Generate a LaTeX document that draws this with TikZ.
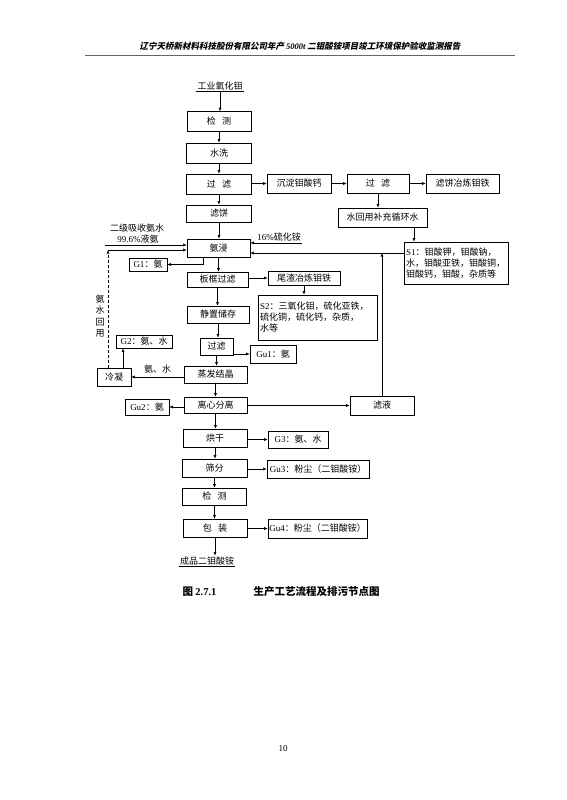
\documentclass[tikz,border=0pt]{standalone}
\usepackage{fontspec}
\setmainfont{Liberation Serif}
\newfontfamily\cjk{Noto Sans CJK SC}
\newfontfamily\hdrfont[FakeSlant=0.2]{Noto Sans CJK SC}
\usepackage{tikz}
\usetikzlibrary{arrows.meta}
\newcommand\lat[1]{{\rmfamily #1}}
\newcommand\gap{\hspace{0.7em}}

\begin{document}
\begin{tikzpicture}[x=1pt, y=-1pt,
  box/.style={draw, line width=0.6pt, inner sep=1pt, font=\cjk\fontsize{9}{11}\selectfont},
  note/.style={inner sep=1pt, font=\cjk\fontsize{9}{11}\selectfont},
  pfeil/.style={-{Latex[length=3.5pt,width=3pt]}, line width=0.6pt},
  linie/.style={line width=0.6pt}]
  \useasboundingbox (0,0) rectangle (566,800);
  % Kopfzeile
  \node[font=\hdrfont\bfseries\fontsize{8.5}{10}\selectfont] (kopf) at (300,46) {辽宁天桥新材料科技股份有限公司年产 \lat{\itshape 5000t} 二钼酸铵项目竣工环境保护验收监测报告};
  \draw[line width=1pt, black!60] (85,56) -- (515,56);
  % Hauptlinie
  \node[note] (rohstoff) at (220,86) {工业氧化钼};
  \draw[linie] (rohstoff.south west) -- (rohstoff.south east);
  \node[box, minimum width=64pt, minimum height=20pt] (jc1) at (219,121.5) {检\gap 测};
  \node[box, minimum width=65pt, minimum height=20pt] (sx) at (219,153) {水洗};
  \node[box, minimum width=65pt, minimum height=20pt] (gl1) at (219,184) {过\gap 滤};
  \node[box, minimum width=65pt, minimum height=17pt] (lb) at (219,213.5) {滤饼};
  \node[box, minimum width=63pt, minimum height=18pt] (aj) at (218.5,248) {氨浸};
  \node[box, minimum width=61pt, minimum height=15pt] (bk) at (217.5,279.5) {板框过滤};
  \node[box, minimum width=62pt, minimum height=17pt] (jz) at (218,314.5) {静置储存};
  \node[box, minimum width=33pt, minimum height=17pt] (gl2) at (216.5,346.5) {过滤};
  \node[box, minimum width=63pt, minimum height=17pt] (zf) at (215.5,374.5) {蒸发结晶};
  \node[box, minimum width=63pt, minimum height=16pt] (lx) at (215.5,405) {离心分离};
  \node[box, minimum width=64pt, minimum height=18pt] (hg) at (215,438) {烘干};
  \node[box, minimum width=65pt, minimum height=18pt] (sf) at (214.5,468) {筛分};
  \node[box, minimum width=64pt, minimum height=17pt] (jc2) at (214.5,496.5) {检\gap 测};
  \node[box, minimum width=64pt, minimum height=18pt] (bz) at (215,528) {包\gap 装};
  \node[note] (cp) at (207,561) {成品二钼酸铵};
  \draw[linie] (cp.south west) -- (cp.south east);
  \draw[pfeil] (rohstoff.south) -- (rohstoff.south |- jc1.north);
  \draw[pfeil] (jc1.south) -- (jc1.south |- sx.north);
  \draw[pfeil] (sx.south) -- (sx.south |- gl1.north);
  \draw[pfeil] (gl1.south) -- (gl1.south |- lb.north);
  \draw[pfeil] (lb.south) -- (lb.south |- aj.north);
  \draw[pfeil] (aj.south) -- (aj.south |- bk.north);
  \draw[pfeil] (bk.south) -- (bk.south |- jz.north);
  \draw[pfeil] (jz.south) -- (jz.south |- gl2.north);
  \draw[pfeil] (gl2.south) -- (gl2.south |- zf.north);
  \draw[pfeil] (zf.south) -- (zf.south |- lx.north);
  \draw[pfeil] (lx.south) -- (lx.south |- hg.north);
  \draw[pfeil] (hg.south) -- (hg.south |- sf.north);
  \draw[pfeil] (sf.south) -- (sf.south |- jc2.north);
  \draw[pfeil] (jc2.south) -- (jc2.south |- bz.north);
  \draw[pfeil] (bz.south) -- (bz.south |- cp.north);
  % rechte Seite
  \node[box, minimum width=64pt, minimum height=19pt] (cd) at (299,183.5) {沉淀钼酸钙};
  \node[box, minimum width=62pt, minimum height=19pt] (gl3) at (378,183.5) {过\gap 滤};
  \node[box, minimum width=73pt, minimum height=19pt] (lbyl) at (462.5,183.5) {滤饼冶炼钼铁};
  \node[box, minimum width=89pt, minimum height=19pt] (hs) at (382.5,217.5) {水回用补充循环水};
  \node[box, inner sep=2pt, text width=100pt, align=left, minimum height=42pt] (s1) at (456,263)
    {\lat{S1}：钼酸钾，钼酸钠，\\水，钼酸亚铁，钼酸铜，\\钼酸钙，钼酸，杂质等};
  \node[note] (ls) at (279,237.5) {\lat{16\%}硫化铵};
  \node[box, minimum width=72pt, minimum height=14pt] (wz) at (304,278) {尾渣冶炼钼铁};
  \node[box, inner sep=2pt, text width=115pt, align=left, minimum height=45pt] (s2) at (317.5,317.5)
    {\lat{S2}：三氧化钼，硫化亚铁，\\硫化铜，硫化钙，杂质，\\水等};
  \node[box, minimum width=46pt, minimum height=18pt] (gu1) at (273,354) {\lat{Gu1}：氨};
  \node[box, minimum width=64pt, minimum height=19pt] (ly) at (382,405.5) {滤液};
  \node[box, minimum width=60pt, minimum height=17pt] (g3) at (298,439.5) {\lat{G3}：氨、水};
  \node[box, minimum width=102pt, minimum height=18pt] (gu3) at (318,469) {\lat{Gu3}：粉尘（二钼酸铵）};
  \node[box, minimum width=99pt, minimum height=19pt] (gu4) at (317.5,528.5) {\lat{Gu4}：粉尘（二钼酸铵）};
  \draw[pfeil] (gl1.east |- cd.west) -- (cd.west);
  \draw[pfeil] (cd) -- (gl3);
  \draw[pfeil] (gl3) -- (lbyl);
  \draw[pfeil] (gl3.south) -- (gl3.south |- hs.north);
  \draw[pfeil] (414,0 |- hs.south) -- (414,0 |- s1.north);
  \draw[pfeil] (s1.west |- 0,253) -- (aj.east |- 0,253);
  \draw[pfeil] (ls.south east) -- (ls.south east -| aj.east);
  \draw[pfeil] (bk.east |- wz.west) -- (wz.west);
  \draw[pfeil] (wz.south) -- (wz.south |- s2.north);
  \draw[pfeil] (gl2.east |- gu1.west) -- (gu1.west);
  \draw[pfeil] (lx.east |- ly.west) -- (ly.west);
  \draw[pfeil] (ly.north) -- (ly.north |- 0,253);
  \draw[pfeil] (hg.east |- g3.west) -- (g3.west);
  \draw[pfeil] (sf.east |- gu3.west) -- (gu3.west);
  \draw[pfeil] (bz.east |- gu4.west) -- (gu4.west);
  % linke Seite
  \node[note] (ej) at (137,228) {二级吸收氨水};
  \node[note] (ya) at (138,239.5) {\lat{99.6\%}液氨};
  \coordinate (ein) at (105,245);
  \coordinate (rueck) at (108,250);
  \node[box, minimum width=38pt, minimum height=13pt] (g1) at (148,264.5) {\lat{G1}：氨};
  \node[box, minimum width=56pt, minimum height=13pt] (g2) at (144,341.5) {\lat{G2}：氨、水};
  \node[box, minimum width=34pt, minimum height=18pt] (kn) at (114,377) {冷凝};
  \node[box, minimum width=44pt, minimum height=16pt] (gu2) at (147,407) {\lat{Gu2}：氨};
  \node[note, align=center, font=\cjk\fontsize{9}{11.5}\selectfont] (ashy) at (100,316) {氨\\水\\回\\用};
  \draw[pfeil] (ein) -- (ein -| aj.west);
  \draw[pfeil] (rueck) -- (rueck -| aj.west);
  \draw[pfeil, densely dashed] (rueck |- kn.north) -- (rueck);
  \draw[pfeil] (203,0 |- aj.south) |- (g1.east);
  \draw[pfeil] (zf.west |- kn.east) -- (kn.east) node[note, midway, above=2pt] {氨、水};
  \draw[pfeil] (123,0 |- kn.north) -- (123,0 |- g2.south);
  \draw[pfeil] (lx.west |- gu2.east) -- (gu2.east);
  % Bildunterschrift
  \node[font=\cjk\bfseries\fontsize{10.5}{12}\selectfont] (capnr) at (199.5,592) {图 \lat{2.7.1}};
  \node[font=\cjk\bfseries\fontsize{10.5}{12}\selectfont] (captxt) at (316.5,592) {生产工艺流程及排污节点图};
  \node[font=\rmfamily\fontsize{9}{11}\selectfont] (seite) at (283,749) {10};
\end{tikzpicture}
\end{document}
